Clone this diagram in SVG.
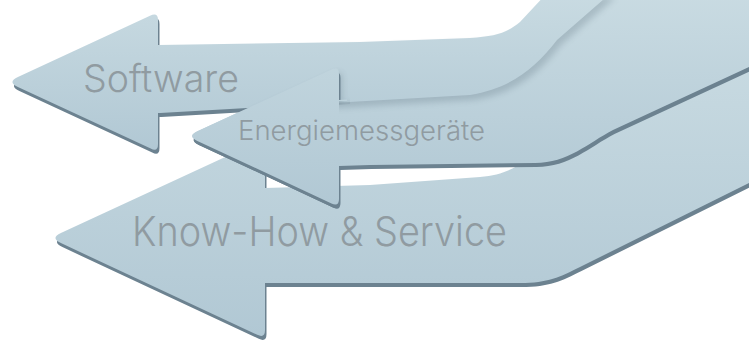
<svg xmlns="http://www.w3.org/2000/svg" xmlns:xlink="http://www.w3.org/1999/xlink" width="749" height="342" viewBox="0 0 749 342">
  <defs>
    <style>
      .fill { fill: url(#arrowGrad); stroke: none; }
      .edge { fill: #6c8290; }
      .soft { fill: #3f5563; opacity: 0.22; filter: url(#blur); }
      .label { font-family: Inter, Roboto, "Liberation Sans", "DejaVu Sans", sans-serif; font-weight: 300; fill: #909ba1; }
    </style>
    <linearGradient id="arrowGrad" x1="0" y1="0" x2="0" y2="1">
      <stop offset="0" stop-color="#c9dbe2"/>
      <stop offset="1" stop-color="#b1c8d4"/>
    </linearGradient>
    <filter id="blur" x="-10%" y="-10%" width="120%" height="120%">
      <feGaussianBlur stdDeviation="3"/>
    </filter>
    <clipPath id="leftOnly">
      <rect x="0" y="0" width="300" height="342"/>
    </clipPath>
    <clipPath id="rightOnly">
      <rect x="330" y="0" width="419" height="342"/>
    </clipPath>
    <clipPath id="headClip">
      <path d="M0,0 H347 V101 H339 V342 H0 Z"/>
    </clipPath>
    <clipPath id="headSoftClip">
      <path d="M150,0 H350 V104 L240,112 L150,140 Z"/>
    </clipPath>
    <path id="p1" d="M 17.9,77 L 150,15.8 Q 158,12 158,20 L 158,45 L 360,42 L 470,38 C 495,36 505,34 520,22 L 548,-8 L 612,-8 L 557,40 C 535,68 512,88 470,95 L 160,113 L 158,113 L 158,144 Q 158,152.5 150.7,148.6 L 17.9,87 Q 7,82 17.9,77 Z"/>
    <path id="p2" d="M 197.4,131.2 L 331,69.7 Q 339,66 339,74 L 339,100 L 480,90 L 560,22 L 590,-8 L 760,-8 L 760,62 L 613,130 C 588,143 568,163 535,163 L 370,165 L 339,166 L 339,199 Q 339,207 331.5,203.5 L 197.4,140.9 Q 187,136 197.4,131.2 Z"/>
    <path id="p3" d="M 60.9,233 L 257,142.4 Q 265,138.7 265,147 L 265,188 L 370,185 L 480,177 C 500,175 512,170 525,161 L 760,43 L 760,177.5 L 580,267 C 560,277 548,283 520,283 L 265,283 L 265,330 Q 265,338.4 257.3,334.8 L 60.9,243.1 Q 50,238 60.9,233 Z"/>
  </defs>

  <g id="know-how-service">
    <use xlink:href="#p3" class="edge" transform="translate(1.5,4)"/>
    <use xlink:href="#p3" class="fill"/>
    <text class="label" x="132" y="246" font-size="41" textLength="375" lengthAdjust="spacingAndGlyphs">Know-How &amp; Service</text>
  </g>

  <g id="energiemessgeraete">
    <use xlink:href="#p2" class="edge" transform="translate(1.5,4)"/>
    <use xlink:href="#p2" class="fill"/>
  </g>

  <g id="software">
    <g clip-path="url(#rightOnly)">
      <use xlink:href="#p1" class="soft" transform="translate(4,5)"/>
    </g>
    <g clip-path="url(#leftOnly)">
      <use xlink:href="#p1" class="edge" transform="translate(1.5,4)"/>
    </g>
    <use xlink:href="#p1" class="fill"/>
    <text class="label" x="83" y="92" font-size="38" textLength="156" lengthAdjust="spacingAndGlyphs">Software</text>
  </g>

  <g id="energiemessgeraete-head">
    <g clip-path="url(#headSoftClip)">
      <use xlink:href="#p2" class="soft" transform="translate(3,4)"/>
    </g>
    <g clip-path="url(#headClip)">
      <use xlink:href="#p2" class="edge" transform="translate(1.5,4)"/>
      <use xlink:href="#p2" class="fill"/>
    </g>
    <text class="label" x="238" y="140" font-size="27.5" textLength="247" lengthAdjust="spacingAndGlyphs">Energiemessgeräte</text>
  </g>

  <g id="connectors"/>
</svg>
